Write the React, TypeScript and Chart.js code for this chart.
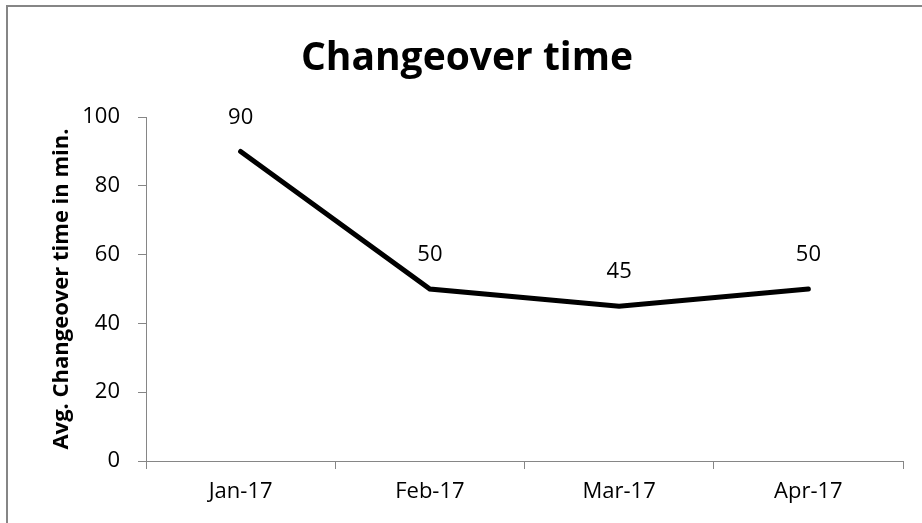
import React, { useEffect, useRef } from "react";
import { Chart, registerables } from "chart.js";

Chart.register(...registerables);

const categories = ["Jan-17", "Feb-17", "Mar-17", "Apr-17"];
const changeoverValues = [90, 50, 45, 50];
const yTicks = [0, 20, 40, 60, 80, 100];
const chartTitle = "Changeover time";
const yAxisTitle = "Avg. Changeover time in min.";

const FONT = "'Open Sans', 'DejaVu Sans', sans-serif";
const AXIS_GRAY = "#868686";

const framePlugin = {
  id: "frame",
  beforeDraw(chart: any) {
    const ctx = chart.ctx;
    ctx.save();
    ctx.fillStyle = "#ffffff";
    ctx.fillRect(0, 0, chart.width, chart.height);
    ctx.fillStyle = AXIS_GRAY;
    ctx.fillRect(6, 5, chart.width - 6, 2);
    ctx.fillRect(6, 5, 2, chart.height - 5);
    ctx.fillStyle = "#000000";
    ctx.font = `bold 39px ${FONT}`;
    ctx.textAlign = "center";
    ctx.textBaseline = "middle";
    ctx.fillText(chartTitle, 467, 59);
    ctx.restore();
  },
};

const dataLabelPlugin = {
  id: "dataLabels",
  afterDatasetsDraw(chart: any) {
    const ctx = chart.ctx;
    const meta = chart.getDatasetMeta(0);
    const data = chart.data.datasets[0].data;
    ctx.save();
    ctx.fillStyle = "#000000";
    ctx.font = `22px ${FONT}`;
    ctx.textAlign = "center";
    ctx.textBaseline = "middle";
    meta.data.forEach((pt: any, i: number) => {
      ctx.fillText(String(data[i]), pt.x, pt.y - 34);
    });
    ctx.restore();
  },
};

export default function App() {
  const canvasRef = useRef<HTMLCanvasElement | null>(null);

  useEffect(() => {
    if (!canvasRef.current) return;
    const chart = new Chart(canvasRef.current, {
      type: "line",
      data: {
        labels: categories,
        datasets: [
          {
            data: changeoverValues,
            borderColor: "#000000",
            backgroundColor: "#000000",
            borderWidth: 5,
            pointRadius: 0,
            borderJoinStyle: "miter",
            borderCapStyle: "round",
            tension: 0,
          },
        ],
      },
      options: {
        animation: false,
        responsive: false,
        maintainAspectRatio: false,
        layout: { padding: { left: 0, right: 19, top: 117, bottom: 0 } },
        plugins: {
          legend: { display: false },
          tooltip: { enabled: false },
          title: { display: false },
        },
        scales: {
          x: {
            type: "category",
            offset: true,
            afterFit(scale: any) {
              scale.height = 62;
            },
            grid: {
              offset: true,
              drawOnChartArea: false,
              drawTicks: true,
              tickLength: 8,
              color: AXIS_GRAY,
            },
            border: { display: true, color: AXIS_GRAY, width: 1 },
            ticks: {
              color: "#000000",
              font: { family: FONT, size: 22 },
              padding: 10,
              maxRotation: 0,
            },
          },
          y: {
            min: 0,
            max: 100,
            afterBuildTicks(scale: any) {
              scale.ticks = yTicks.map((v) => ({ value: v }));
            },
            afterFit(scale: any) {
              scale.width = 146;
            },
            grid: {
              drawOnChartArea: false,
              drawTicks: true,
              tickLength: 8,
              color: AXIS_GRAY,
            },
            border: { display: true, color: AXIS_GRAY, width: 1 },
            ticks: {
              color: "#000000",
              font: { family: FONT, size: 22 },
              padding: 18,
            },
            title: {
              display: true,
              text: yAxisTitle,
              color: "#000000",
              font: { family: FONT, size: 22, weight: "bold", lineHeight: 1.2 },
              padding: { top: 49, bottom: 0 },
            },
          },
        },
      },
      plugins: [framePlugin, dataLabelPlugin],
    });
    return () => chart.destroy();
  }, []);

  return (
    <div style={{ position: "fixed", left: 0, top: 0, width: 922, height: 523 }}>
      <canvas ref={canvasRef} width={922} height={523} style={{ display: "block", width: 922, height: 523 }} />
    </div>
  );
}
